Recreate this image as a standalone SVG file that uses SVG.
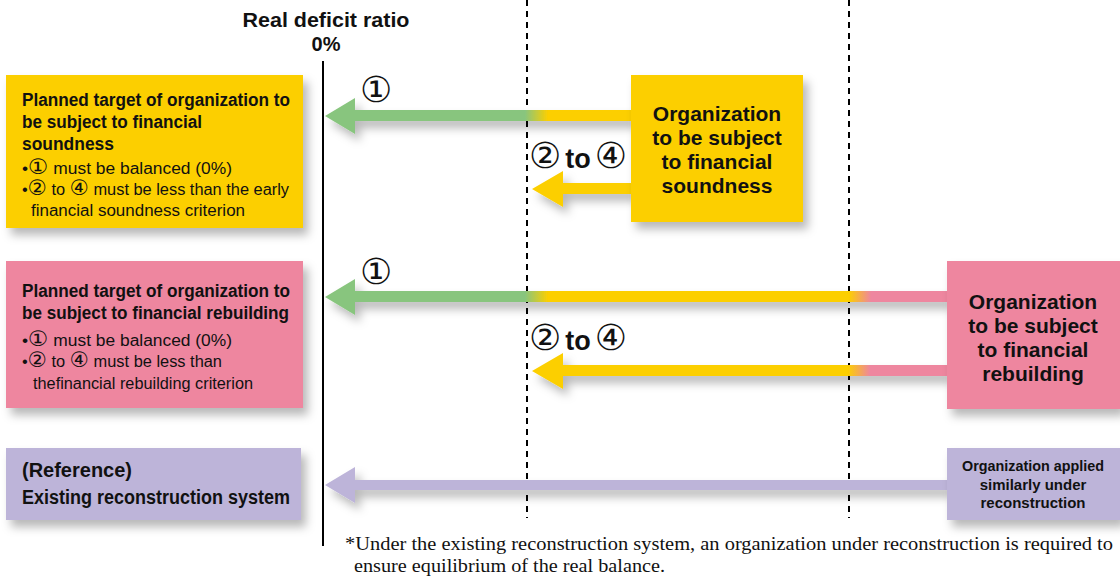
<svg xmlns="http://www.w3.org/2000/svg" width="1120" height="578" viewBox="0 0 1120 578">
<style>
.sans{font-family:"Liberation Sans","DejaVu Sans",sans-serif;fill:#111}
.b{font-weight:bold}
.h{font-size:18px;font-weight:bold}
.bl{font-size:16px}
.c{font-size:21px}
.org{font-size:21px;font-weight:bold;text-anchor:middle}
.num{font-size:36px}
.serif{font-family:"Liberation Serif",serif;font-size:18.5px;fill:#111}
.yel{fill:#FCCF00}
.pink{fill:#EE869F}
.pur{fill:#BDB4D9}
</style>
<defs>
<filter id="sh" x="-10%" y="-20%" width="130%" height="160%">
<feDropShadow dx="5" dy="7" stdDeviation="5" flood-color="#000" flood-opacity="0.28"/>
</filter>
<linearGradient id="g1" gradientUnits="userSpaceOnUse" x1="525" y1="0" x2="548" y2="0">
<stop offset="0" stop-color="#88C57E"/><stop offset="1" stop-color="#FCCF00"/>
</linearGradient>
<linearGradient id="g3" gradientUnits="userSpaceOnUse" x1="325" y1="0" x2="947" y2="0">
<stop offset="0" stop-color="#88C57E"/>
<stop offset="0.3215" stop-color="#88C57E"/>
<stop offset="0.3585" stop-color="#FCCF00"/>
<stop offset="0.842" stop-color="#FCCF00"/>
<stop offset="0.878" stop-color="#EE869F"/>
<stop offset="1" stop-color="#EE869F"/>
</linearGradient>
<linearGradient id="g4" gradientUnits="userSpaceOnUse" x1="532" y1="0" x2="947" y2="0">
<stop offset="0" stop-color="#FCCF00"/>
<stop offset="0.761" stop-color="#FCCF00"/>
<stop offset="0.815" stop-color="#EE869F"/>
<stop offset="1" stop-color="#EE869F"/>
</linearGradient>
</defs>

<g id="axes">
<line x1="323" y1="61" x2="323" y2="546" stroke="#000" stroke-width="2"/>
<line x1="527" y1="0" x2="527" y2="518" stroke="#000" stroke-width="2" stroke-dasharray="6,5"/>
<line x1="849" y1="0" x2="849" y2="518" stroke="#000" stroke-width="2" stroke-dasharray="6,5"/>
<text class="sans b" x="326" y="27" font-size="20" text-anchor="middle" textLength="167" lengthAdjust="spacingAndGlyphs">Real deficit ratio</text>
<text class="sans b" x="326" y="51" font-size="20" text-anchor="middle">0%</text>
</g>

<g id="connectors">
<polygon filter="url(#sh)" fill="url(#g1)" points="325,116 355,98 355,110 632,110 632,121 355,121 355,134"/>
<polygon filter="url(#sh)" class="yel" points="532,189 563,171 563,183 632,183 632,194 563,194 563,207"/>
<polygon filter="url(#sh)" fill="url(#g3)" points="325,297 355,279 355,291 948,291 948,302 355,302 355,315"/>
<polygon filter="url(#sh)" fill="url(#g4)" points="532,371 563,353 563,365 948,365 948,376 563,376 563,389"/>
<polygon filter="url(#sh)" class="pur" points="325,485 355,467 355,480 948,480 948,490 355,490 355,503"/>
<text class="sans num" x="360" y="102">①</text>
<text class="sans num" x="360" y="284">①</text>
<text class="sans" x="529" y="168"><tspan class="num">②</tspan><tspan class="b" font-size="27" dx="4">to</tspan><tspan class="num" dx="4">④</tspan></text>
<text class="sans" x="529" y="350"><tspan class="num">②</tspan><tspan class="b" font-size="27" dx="4">to</tspan><tspan class="num" dx="4">④</tspan></text>
</g>

<g id="target-soundness">
<rect filter="url(#sh)" class="yel" x="6" y="75" width="297" height="153"/>
<text class="sans h" x="22" y="106" textLength="268" lengthAdjust="spacingAndGlyphs">Planned target of organization to</text>
<text class="sans h" x="22" y="128" textLength="180" lengthAdjust="spacingAndGlyphs">be subject to financial</text>
<text class="sans h" x="22" y="150" textLength="92" lengthAdjust="spacingAndGlyphs">soundness</text>
<text class="sans bl" x="22" y="174" textLength="210" lengthAdjust="spacingAndGlyphs">•<tspan class="c">①</tspan> must be balanced (0%)</text>
<text class="sans bl" x="22" y="195" textLength="267" lengthAdjust="spacingAndGlyphs">•<tspan class="c">②</tspan> to <tspan class="c">④</tspan> must be less than the early</text>
<text class="sans bl" x="31" y="216" textLength="214" lengthAdjust="spacingAndGlyphs">financial soundness criterion</text>
</g>

<g id="org-soundness">
<rect filter="url(#sh)" class="yel" x="631" y="75" width="172" height="147"/>
<text class="sans org" x="717" y="121">Organization</text>
<text class="sans org" x="717" y="145">to be subject</text>
<text class="sans org" x="717" y="169">to financial</text>
<text class="sans org" x="717" y="193">soundness</text>
</g>

<g id="target-rebuilding">
<rect filter="url(#sh)" class="pink" x="6" y="261" width="297" height="147"/>
<text class="sans h" x="22" y="297" textLength="268" lengthAdjust="spacingAndGlyphs">Planned target of organization to</text>
<text class="sans h" x="22" y="319" textLength="267" lengthAdjust="spacingAndGlyphs">be subject to financial rebuilding</text>
<text class="sans bl" x="22" y="346" textLength="210" lengthAdjust="spacingAndGlyphs">•<tspan class="c">①</tspan> must be balanced (0%)</text>
<text class="sans bl" x="22" y="367" textLength="200" lengthAdjust="spacingAndGlyphs">•<tspan class="c">②</tspan> to <tspan class="c">④</tspan> must be less than</text>
<text class="sans bl" x="33" y="389" textLength="220" lengthAdjust="spacingAndGlyphs">thefinancial rebuilding criterion</text>
</g>

<g id="org-rebuilding">
<rect filter="url(#sh)" class="pink" x="947" y="261" width="173" height="148"/>
<text class="sans org" x="1033" y="309">Organization</text>
<text class="sans org" x="1033" y="333">to be subject</text>
<text class="sans org" x="1033" y="357">to financial</text>
<text class="sans org" x="1033" y="381">rebuilding</text>
</g>

<g id="reference">
<rect filter="url(#sh)" class="pur" x="6" y="448" width="295" height="72"/>
<text class="sans b" x="22" y="477" font-size="20" textLength="110" lengthAdjust="spacingAndGlyphs">(Reference)</text>
<text class="sans b" x="22" y="504" font-size="20" textLength="268" lengthAdjust="spacingAndGlyphs">Existing reconstruction system</text>
</g>

<g id="org-reconstruction">
<rect filter="url(#sh)" class="pur" x="947" y="448" width="173" height="72"/>
<text class="sans b" x="1033" y="471" font-size="15" text-anchor="middle" textLength="142" lengthAdjust="spacingAndGlyphs">Organization applied</text>
<text class="sans b" x="1033" y="490" font-size="15" text-anchor="middle">similarly under</text>
<text class="sans b" x="1033" y="508" font-size="15" text-anchor="middle">reconstruction</text>
</g>

<g id="footnote">
<text class="serif" x="345" y="550" textLength="768" lengthAdjust="spacingAndGlyphs">*Under the existing reconstruction system, an organization under reconstruction is required to</text>
<text class="serif" x="354" y="572" textLength="311" lengthAdjust="spacingAndGlyphs">ensure equilibrium of the real balance.</text>
</g>
</svg>
